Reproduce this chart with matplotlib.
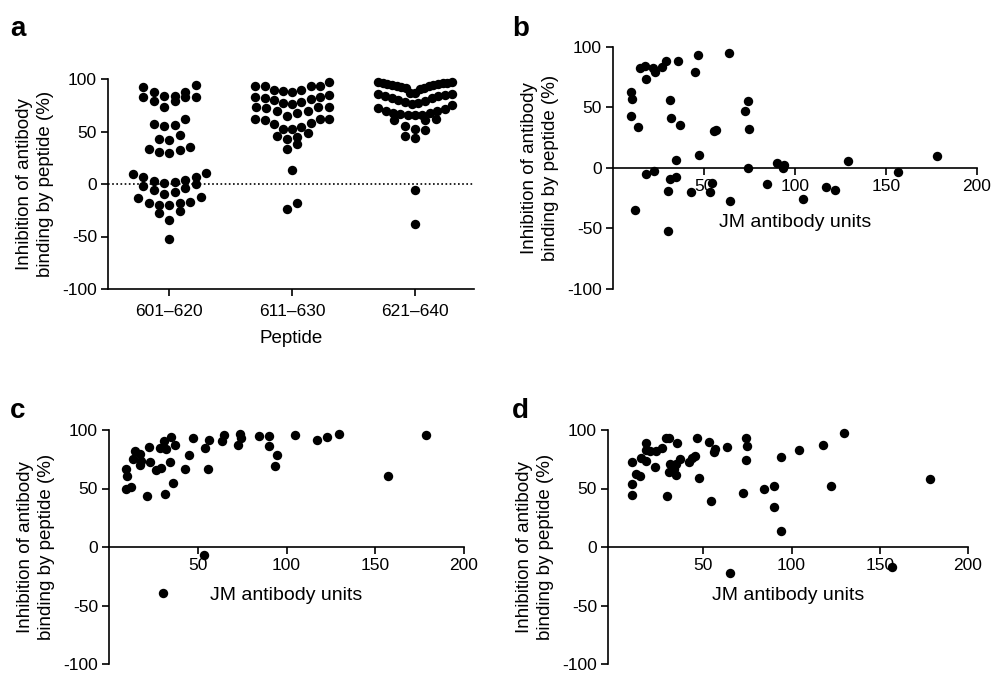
import numpy as np
import matplotlib.pyplot as plt

plt.rcParams['font.family'] = ['Liberation Sans', 'DejaVu Sans']
plt.rcParams['axes.unicode_minus'] = False

# panel a: inhibition (%) per peptide
peptides = ['601\u2013620', '611\u2013630', '621\u2013640']
inhib_601 = [94, 92.7, 88, 88, 84, 82.5, 79, 82.5, 82.5, 84, 79, 73,
             62, 56, 55.5, 57, 47, 41.6, 43, 33, 30.8, 30, 32, 35.5,
             10, 6.3, 7, 10.5, 2.2, 0.6, -2.2, -5.4, -7.6, -4.1, 0, 2.5, 3.8,
             -12, -16.8, -18.4, -20.3, -20, -18.4, -13.7, -9.5, -27.3, -25.7, -34.3, -52]
inhib_611 = [97, 93, 93, 89.5, 87.6, 89, 90, 93, 93,
             85, 82.5, 80.6, 78, 76, 77.5, 80, 82, 82.5,
             73.7, 72.4, 70, 68, 62, 62, 62, 65, 70, 73, 73,
             57.8, 54, 45.7, 52, 43, 49, 52.4, 57, 61, 44.4, 38, 33.6, 13.3, -23.5, -17.8]
inhib_621 = [97, 96.5, 96, 95, 94, 93, 91.5, 90.5, 91, 92, 93, 94.5, 95.5, 96, 97,
             87, 86, 85, 84, 82, 80, 78, 76, 75, 77, 79, 82, 84, 86, 87,
             72, 70, 68, 66, 66, 62, 61, 61, 66, 67, 68, 70, 71,
             55, 51, 44, 46, 52, -6, -38.5]

# panel b: peptide 601-620
jm_b = [10.1, 10.4, 10.1, 13.9, 12.3, 14.8, 17.8, 18.3, 17.9, 22.3, 22, 23.1, 26.7,
        29.3, 31.1, 31.9, 34.4, 35.5, 36.8, 30.2, 31.1, 34.8, 30.4, 45.1, 46.9, 47.3,
        42.7, 54.6, 53.5, 55.3, 56.6, 63.6, 64.5, 72.7, 74.1, 74.7, 74.1, 84.4, 89.9,
        93.9, 93.6, 104.6, 117, 122.2, 129, 156.8, 177.8]
inh_b = [62.5, 57.3, 43, 33.9, -34.7, 82.9, 84, 73.3, -5.2, -2.5, 82.6, 79, 83.7,
         88.7, 56.2, 41.6, 6.6, 88.7, 35.8, -19, -9.4, -7.2, -51.8, 79.3, 93.1, 10.7,
         -20.1, -12.1, -19.8, 30.6, 31.7, 94.8, -27.5, 47.4, 55.4, 32.1, 0.3, -13.6, 4.2,
         2.5, -0.3, -25.6, -16, -18.2, 6, -3.6, 10.2]

# panel c: peptide 621-640
jm_c = [9.8, 10.3, 9.8, 12.2, 14.5, 13.5, 17.3, 18.2, 17.7, 22.6, 22.9, 21.6, 26.7,
        29.5, 28.6, 30.8, 32.3, 34.8, 37, 34.2, 36.1, 31.4, 30.5, 43, 45.1, 47.4, 54.3,
        56.4, 55.5, 53.4, 63.9, 64.7, 72.7, 73.7, 74.6, 84.4, 90, 90, 94.4, 93.8, 104.7,
        117.3, 122.6, 129.7, 157.3, 178.4]
inh_c = [66.8, 61.1, 49.9, 51, 82.3, 75.2, 79.4, 73.8, 70.1, 85.6, 72.4, 43.7, 66.2,
         67.3, 84.2, 90.4, 83.7, 94.4, 87.3, 73, 54.9, 45.6, -38.9, 66.8, 78.6, 93.5, 84.2,
         91.5, 66.8, -6.5, 90.7, 95.8, 87, 96.3, 93.5, 94.9, 94.9, 85.9, 78.9, 69.6, 95.8,
         91.5, 93.8, 96.6, 60.8, 95.8]

# panel d: peptide 611-630
jm_d = [9.4, 9.4, 9.8, 11.7, 14, 14.5, 17.7, 17.4, 17.4, 19.8, 22.5, 23, 26.8, 28.7,
        30.6, 29.6, 30.9, 30.6, 33.4, 34.3, 34.3, 35.3, 36.6, 41.9, 43.8, 45.1, 46.6,
        47.7, 53.2, 54.5, 56, 56.6, 63.6, 64.9, 72.6, 74, 74.5, 74, 84.3, 90, 90, 93.8,
        94.2, 104.5, 117.7, 122.5, 129.6, 157, 178.7]
inh_d = [44.8, 54.1, 73, 62.5, 60.6, 75.8, 73.8, 89.3, 83.1, 82.3, 68.2, 82.3, 85, 93.5,
         93.5, 43.7, 71, 63.9, 66.8, 61.7, 71, 89.3, 75.2, 73, 75.8, 77.5, 93, 58.9, 90.1,
         39.2, 80.8, 83.7, 85.6, -22.5, 46.2, 93.5, 85.9, 74.6, 49.3, 52.1, 34.4, 76.9,
         13.8, 82.8, 87, 52.1, 97.2, -17.2, 57.7]

W, H = 991, 674
ylab = 'Inhibition of antibody\nbinding by peptide (%)'


def row_offsets(vals, h=10, step=0.085, width=0.6):
    # spread points of similar value side by side, lowest in the middle
    vals = np.asarray(vals, float)
    order = np.argsort(-vals)
    offs = np.zeros(len(vals))
    rows = []
    cur = [order[0]]
    top = vals[order[0]]
    for i in order[1:]:
        if top - vals[i] <= h:
            cur.append(i)
        else:
            rows.append(cur)
            cur = [i]
            top = vals[i]
    rows.append(cur)
    for r in rows:
        n = len(r)
        s = min(step, width / (n - 1)) if n > 1 else 0
        slots = (np.arange(n) - (n - 1) / 2) * s
        slots = slots[np.argsort(np.abs(slots), kind='stable')]
        r_sorted = sorted(r, key=lambda i: vals[i])
        for i, sl in zip(r_sorted, slots):
            offs[i] = sl
    return offs


def style_y(ax):
    ax.set_ylim(-100, 100)
    ax.set_yticks([-100, -50, 0, 50, 100])
    ax.spines['top'].set_visible(False)
    ax.spines['right'].set_visible(False)
    for s in ['left', 'bottom']:
        ax.spines[s].set_linewidth(1.2)
    ax.tick_params(direction='out', length=5, width=1.2, labelsize=12.5, pad=3)
    ax.set_ylabel(ylab, fontsize=13.5, labelpad=6, linespacing=1.3)


fig = plt.figure(figsize=(W / 100, H / 100), dpi=100)

# panel a
ax_a = fig.add_axes([108 / W, 1 - 289 / H, 366 / W, 210 / H])
for k, vals in enumerate([inhib_601, inhib_611, inhib_621]):
    xs = k + row_offsets(vals)
    ax_a.scatter(xs, vals, s=46, color='black', linewidths=0, zorder=3, clip_on=False)
ax_a.axhline(0, color='black', linestyle=(0, (1, 1.5)), linewidth=1.2)
ax_a.set_xlim(-0.5, 2.48)
ax_a.set_xticks([0, 1, 2])
ax_a.set_xticklabels(peptides)
style_y(ax_a)
ax_a.tick_params(axis='x', pad=6)
ax_a.set_xlabel('Peptide', fontsize=13.5, labelpad=8)

# panels b-d
panels = [
    ([613 / W, 1 - 289 / H, 364 / W, 242 / H], jm_b, inh_b, (0, 200), 14),
    ([109 / W, 1 - 664 / H, 355 / W, 234 / H], jm_c, inh_c, (0, 200), 10),
    ([608 / W, 1 - 664 / H, 360 / W, 234 / H], jm_d, inh_d, (-4, 200), 10),
]
for rect, xv, yv, xl, pad in panels:
    ax = fig.add_axes(rect)
    ax.scatter(xv, yv, s=46, color='black', linewidths=0, zorder=3, clip_on=False)
    ax.set_xlim(*xl)
    ax.set_xticks([50, 100, 150, 200])
    style_y(ax)
    ax.spines['bottom'].set_position(('data', 0))
    ax.set_xlabel('JM antibody units', fontsize=14, labelpad=pad)

for lab, x, y in [('a', 10, 16), ('b', 512, 16), ('c', 10, 398), ('d', 512, 398)]:
    fig.text(x / W, 1 - y / H, lab, fontsize=20, fontweight='bold', va='top')

fig.savefig('out.png', dpi=100)
